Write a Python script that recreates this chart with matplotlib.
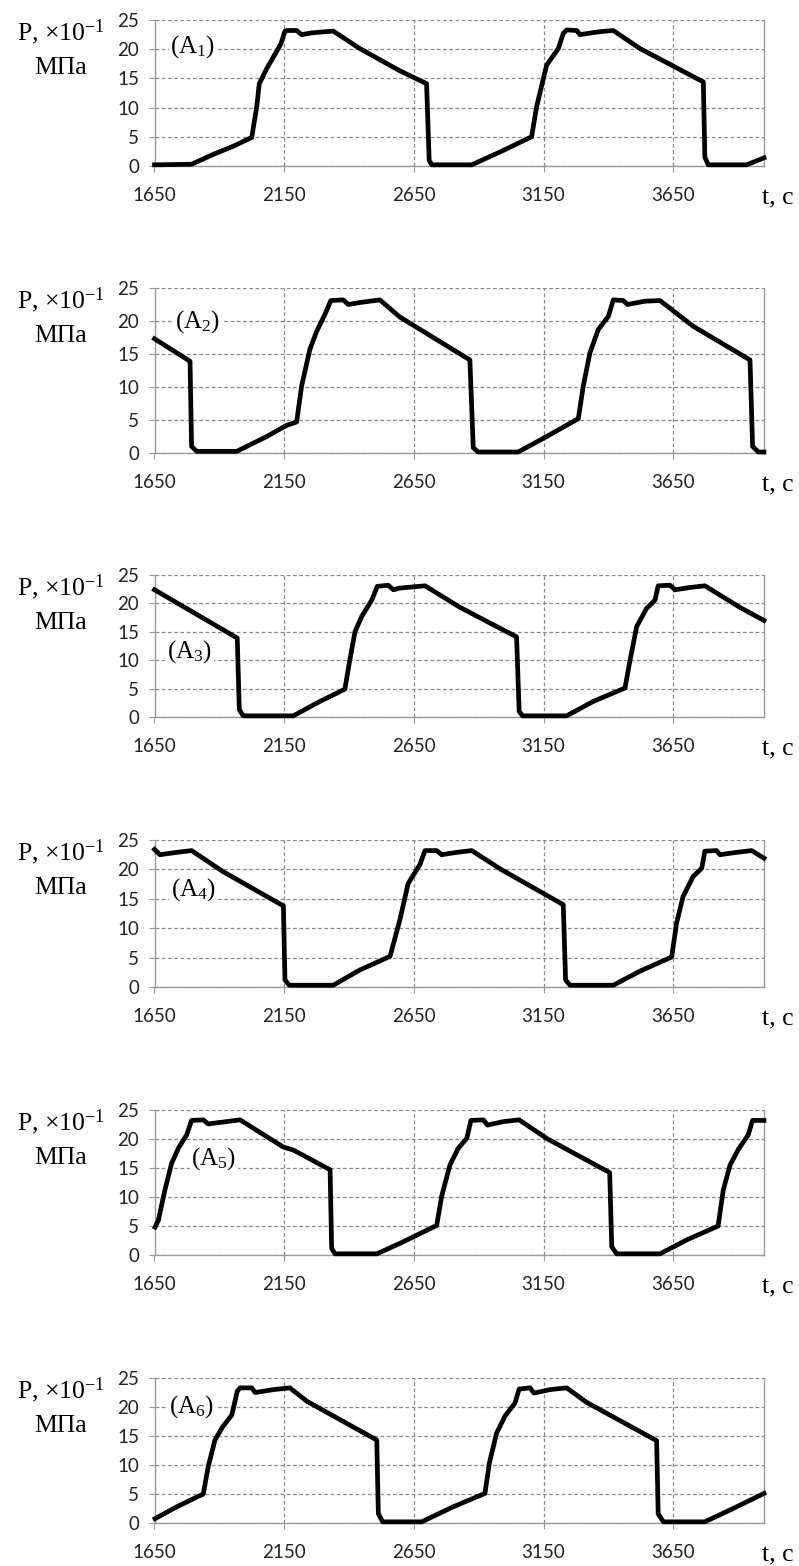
import matplotlib.pyplot as plt

plt.rcParams['mathtext.fontset'] = 'custom'
plt.rcParams['mathtext.rm'] = 'Liberation Serif'
plt.rcParams['mathtext.it'] = 'Liberation Serif:italic'

# pressure traces (t in s, P in 0.1 MPa)
t1 = [1650, 1793, 1877, 1954, 2025, 2044, 2054, 2083, 2127, 2138, 2153, 2162, 2198, 2217, 2256, 2339,
      2442, 2596, 2699, 2709, 2719, 2873, 2982, 3104, 3123, 3143, 3162, 3207, 3226, 3239, 3278, 3290,
      3367, 3419, 3522, 3766, 3772, 3785, 3933, 4000]
p1 = [0.2, 0.3, 2.0, 3.4, 4.9, 10.1, 14.1, 16.7, 20.1, 21.0, 23.1, 23.2, 23.2, 22.5, 22.8, 23.1,
      20.1, 16.3, 14.1, 1.0, 0.2, 0.2, 2.4, 5.0, 10.1, 13.8, 17.3, 20.1, 22.7, 23.3, 23.2, 22.5,
      23.0, 23.2, 20.1, 14.4, 1.5, 0.2, 0.2, 1.4]

t2 = [1650, 1787, 1793, 1813, 1967, 2083, 2160, 2198, 2217, 2249, 2275, 2307, 2330, 2378, 2397, 2442,
      2519, 2596, 2866, 2879, 2898, 3052, 3162, 3284, 3303, 3329, 3361, 3400, 3419, 3457, 3474, 3541,
      3599, 3727, 3946, 3956, 3978, 4000]
p2 = [17.3, 13.9, 1.0, 0.25, 0.25, 2.5, 4.2, 4.7, 10.1, 15.7, 18.4, 21.0, 23.1, 23.2, 22.5, 22.8,
      23.2, 20.6, 14.1, 0.8, 0.15, 0.15, 2.5, 5.2, 10.1, 15.2, 18.7, 20.7, 23.2, 23.1, 22.5, 23.0,
      23.1, 19.2, 14.1, 1.0, 0.15, 0.15]

t3 = [1650, 1969, 1977, 1992, 2185, 2288, 2384, 2401, 2423, 2449, 2488, 2509, 2551, 2571, 2596, 2693,
      2828, 3046, 3056, 3069, 3239, 3342, 3464, 3484, 3509, 3547, 3580, 3592, 3637, 3657, 3714, 3772,
      3907, 4000]
p3 = [22.4, 13.9, 1.3, 0.2, 0.2, 2.75, 4.9, 9.5, 15.0, 17.7, 20.6, 23.0, 23.2, 22.4, 22.7, 23.1,
      19.3, 14.1, 1.0, 0.2, 0.2, 2.75, 5.1, 10.1, 15.9, 19.1, 20.6, 23.1, 23.2, 22.4, 22.8, 23.1,
      19.3, 17.0]

t4 = [1650, 1671, 1736, 1793, 1915, 2147, 2153, 2170, 2339, 2442, 2558, 2596, 2628, 2673, 2693, 2738,
      2757, 2815, 2873, 2982, 3226, 3235, 3252, 3419, 3522, 3644, 3663, 3688, 3727, 3760, 3772, 3817,
      3830, 3894, 3952, 4000]
p4 = [23.4, 22.5, 22.9, 23.2, 19.6, 13.8, 1.2, 0.3, 0.3, 2.9, 5.2, 11.4, 17.6, 20.8, 23.2, 23.2,
      22.5, 22.9, 23.2, 20.1, 14.0, 1.2, 0.3, 0.3, 2.7, 5.1, 10.9, 15.4, 18.8, 20.2, 23.1, 23.2,
      22.5, 22.9, 23.2, 21.9]

t5 = [1652, 1665, 1690, 1716, 1742, 1774, 1793, 1838, 1857, 1928, 1980, 2083, 2147, 2185, 2327, 2333,
      2346, 2507, 2596, 2738, 2757, 2789, 2821, 2854, 2870, 2918, 2934, 2995, 3056, 3162, 3405, 3413,
      3432, 3599, 3702, 3823, 3843, 3869, 3901, 3939, 3956, 4000]
p5 = [4.8, 6.0, 11.2, 15.8, 18.4, 20.7, 23.2, 23.3, 22.6, 23.0, 23.3, 20.4, 18.6, 18.1, 14.7, 1.15,
      0.2, 0.2, 2.0, 5.1, 10.1, 15.5, 18.4, 20.1, 23.2, 23.3, 22.4, 23.0, 23.3, 20.1, 14.2, 1.4,
      0.2, 0.2, 2.6, 5.0, 11.2, 15.5, 18.2, 20.7, 23.2, 23.2]

t6 = [1652, 1736, 1838, 1857, 1883, 1913, 1948, 1969, 1980, 2025, 2038, 2109, 2172, 2237, 2507, 2513,
      2530, 2680, 2802, 2924, 2941, 2969, 3001, 3040, 3056, 3098, 3113, 3175, 3239, 3316, 3586, 3592,
      3612, 3772, 3881, 4000]
p6 = [0.75, 2.8, 5.0, 9.7, 14.3, 16.6, 18.6, 22.7, 23.3, 23.3, 22.5, 23.0, 23.3, 21.0, 14.3, 1.6,
      0.2, 0.2, 2.8, 5.1, 10.3, 15.5, 18.4, 20.7, 23.1, 23.3, 22.4, 23.0, 23.3, 20.8, 14.2, 1.6,
      0.2, 0.2, 2.5, 5.1]

series_t = [t1, t2, t3, t4, t5, t6]
series_p = [p1, p2, p3, p4, p5, p6]
panel_names = ['(A$_{1}$)', '(A$_{2}$)', '(A$_{3}$)', '(A$_{4}$)', '(A$_{5}$)', '(A$_{6}$)']
name_pos = [(1710, 20.4), (1729, 19.9), (1698, 11.5), (1713, 16.5), (1791, 16.7), (1706, 20.1)]
x_ticks = [1650, 2150, 2650, 3150, 3650]
y_ticks = [0, 5, 10, 15, 20, 25]

# axes top / bottom in pixels of the 799x1566 picture
W, H = 799, 1566
panel_px = [(20, 166), (288, 453), (575, 717), (840, 987), (1110, 1255), (1378, 1523)]
left_px, right_px = 154.5, 764

fig = plt.figure(figsize=(W / 100, H / 100), dpi=100)
serif = 'Liberation Serif'
grey = '#9a9a9a'

for i in range(6):
    top, bot = panel_px[i]
    ax = fig.add_axes([left_px / W, 1 - bot / H, (right_px - left_px) / W, (bot - top) / H])
    ax.plot(series_t[i], series_p[i], color='black', lw=3.4, solid_joinstyle='round',
            clip_on=False, zorder=5)
    ax.set_xlim(1650, 4000)
    ax.set_ylim(0, 25)
    ax.set_xticks(x_ticks)
    ax.set_yticks(y_ticks)
    ax.grid(True, color='#8a8a8a', linestyle=(0, (3, 2)), linewidth=0.9)
    ax.set_axisbelow(True)
    for side in ['left', 'bottom', 'right']:
        ax.spines[side].set_color(grey)
        ax.spines[side].set_linewidth(1.0)
    ax.spines['top'].set_visible(False)
    ax.tick_params(direction='out', length=4, color=grey, labelsize=13.5,
                   labelcolor='#222222')
    ax.tick_params(axis='x', pad=11)
    ax.tick_params(axis='y', pad=7)
    for lab in ax.get_xticklabels() + ax.get_yticklabels():
        lab.set_family('Lato')

    nx, ny = name_pos[i]
    ax.text(nx, ny, panel_names[i], fontsize=18, family=serif, ha='left', va='center',
            zorder=4, bbox=dict(facecolor='white', edgecolor='none', pad=1))

    ax.annotate('P, ×10$^{-1}$', xy=(0, 1), xycoords='axes fraction', xytext=(-94, -12),
                textcoords='offset pixels', ha='center', va='center', fontsize=18.5, family=serif)
    ax.annotate('МПа', xy=(0, 1), xycoords='axes fraction', xytext=(-94, -48),
                textcoords='offset pixels', ha='center', va='center', fontsize=18.5, family=serif)
    ax.annotate('t, c', xy=(1, 0), xycoords='axes fraction', xytext=(-2, -32),
                textcoords='offset pixels', ha='left', va='center', fontsize=18.5, family=serif)

fig.savefig('out.png', dpi=100, facecolor='white')
